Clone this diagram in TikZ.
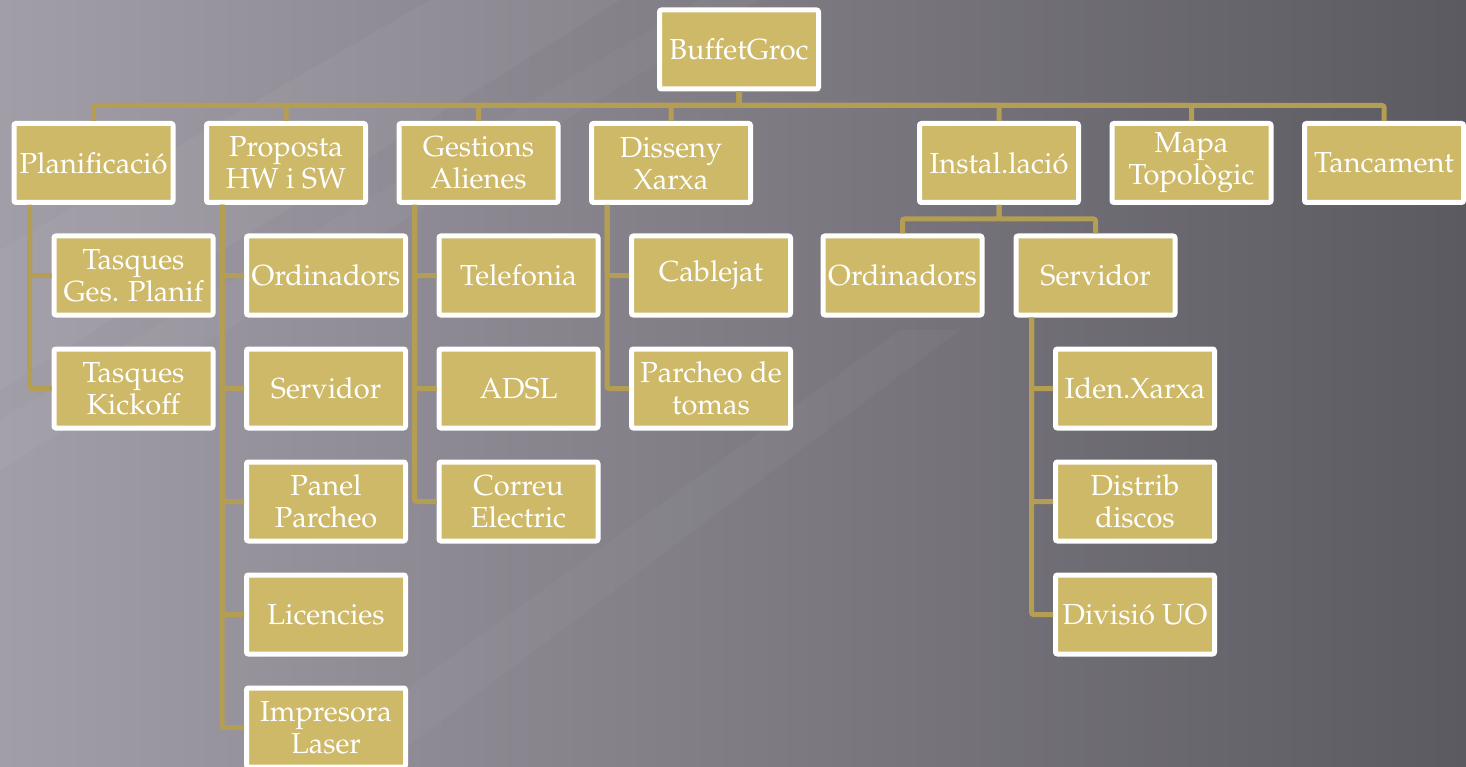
\documentclass[tikz,border=0pt]{standalone}
\usepackage[T1]{fontenc}
\renewcommand{\rmdefault}{ppl}
\pgfdeclarelayer{bg}
\pgfsetlayers{bg,main}
\definecolor{boxfill}{RGB}{206,185,104}
\definecolor{linkcol}{RGB}{180,158,84}
\definecolor{bgdark}{RGB}{92,90,97}
\definecolor{bgmid}{RGB}{122,119,126}
\definecolor{bglight}{RGB}{162,158,168}
\tikzset{
  box/.style={draw=white, line width=5pt, fill=boxfill, rounded corners=2pt,
    minimum width=159pt, minimum height=79pt, inner sep=0pt, align=center,
    text=white, font=\fontsize{29}{32}\selectfont},
  link/.style={draw=linkcol, line width=5pt, rounded corners=2pt},
}
\begin{document}
\begin{tikzpicture}[x=1pt,y=1pt]
\useasboundingbox (0,0) rectangle (1466,-767);
\begin{pgfonlayer}{bg}
  \shade[left color=bglight, middle color=bgmid, right color=bgdark] (0,0) rectangle (1466,-767);
  % light streaks
  \fill[white, opacity=0.04] (0,-250) -- (430,0) -- (620,0) -- (0,-390) -- cycle;
  \fill[white, opacity=0.03] (0,-420) -- (700,0) -- (760,0) -- (0,-470) -- cycle;
  \fill[white, opacity=0.03] (300,-767) -- (900,-330) -- (960,-330) -- (380,-767) -- cycle;
\end{pgfonlayer}

% top
\node[box] (root) at (739,-49.5) {BuffetGroc};
\node[box] (plan) at (93.5,-163) {Planificaci\'o};
\node[box] (prop) at (286,-163) {Proposta\\HW i SW};
\node[box] (gest) at (478.5,-163) {Gestions\\Alienes};
\node[box] (diss) at (671,-163) {Disseny\\Xarxa};
\node[box] (inst) at (999,-163) {Instal.laci\'o};
\node[box] (mapa) at (1191.5,-163) {Mapa\\Topol\`ogic};
\node[box] (tanc) at (1384,-163) {Tancament};

% Planificacio
\node[box] (plan1) at (133.5,-275.5) {Tasques\\Ges. Planif};
\node[box] (plan2) at (133.5,-388.5) {Tasques\\Kickoff};

% Proposta
\node[box] (prop1) at (326,-275.5) {Ordinadors};
\node[box] (prop2) at (326,-388.5) {Servidor};
\node[box] (prop3) at (326,-501.5) {Panel\\Parcheo};
\node[box] (prop4) at (326,-614.5) {Licencies};
\node[box] (prop5) at (326,-727.5) {Impresora\\Laser};

% Gestions
\node[box] (gest1) at (518.5,-275.5) {Telefonia};
\node[box] (gest2) at (518.5,-388.5) {ADSL};
\node[box] (gest3) at (518.5,-501.5) {Correu\\Electric};

% Disseny
\node[box] (diss1) at (711,-275.5) {Cablejat};
\node[box] (diss2) at (711,-388.5) {Parcheo de\\tomas};

% Instal.lacio
\node[box] (instord) at (902.5,-275.5) {Ordinadors};
\node[box] (instsrv) at (1095.5,-275.5) {Servidor};
\node[box] (srv1) at (1135,-388.5) {Iden.Xarxa};
\node[box] (srv2) at (1135,-501.5) {Distrib\\discos};
\node[box] (srv3) at (1135,-614.5) {Divisi\'o UO};

% connectors
\foreach \c in {plan,prop,gest,diss,inst,mapa,tanc}
  \draw[link] (root.south) -- ++(0,-14) -| (\c.north);
\foreach \c in {plan1,plan2}
  \draw[link] ([xshift=18pt]plan.south west) |- (\c.west);
\foreach \c in {prop1,prop2,prop3,prop4,prop5}
  \draw[link] ([xshift=18pt]prop.south west) |- (\c.west);
\foreach \c in {gest1,gest2,gest3}
  \draw[link] ([xshift=18pt]gest.south west) |- (\c.west);
\foreach \c in {diss1,diss2}
  \draw[link] ([xshift=18pt]diss.south west) |- (\c.west);
\foreach \c in {instord,instsrv}
  \draw[link] (inst.south) -- ++(0,-14) -| (\c.north);
\foreach \c in {srv1,srv2,srv3}
  \draw[link] ([xshift=18pt]instsrv.south west) |- (\c.west);
\end{tikzpicture}
\end{document}
